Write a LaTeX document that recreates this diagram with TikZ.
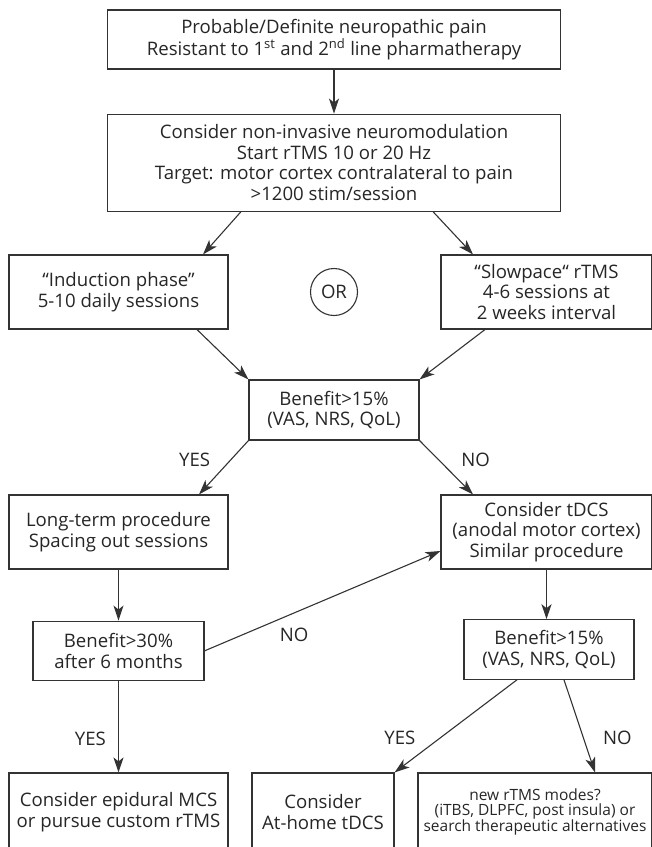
\documentclass[tikz,border=0pt]{standalone}
\usepackage{fontspec}
\setmainfont{Open Sans}
\usetikzlibrary{arrows.meta,positioning}

\newcommand{\boxfont}{\fontsize{18.6}{20.5}\selectfont}
\newcommand{\notefont}{\fontsize{15.5}{15.2}\selectfont}

\begin{document}
\begin{tikzpicture}[%
    x=1pt, y=-1pt,              % layout in pixels, y grows downwards
    >={Stealth[length=15pt,width=10pt,inset=4pt]},
    every join/.style={norm},
    ]
% -------------------------------------------------
% Box styles
\tikzset{
  base/.style={draw=black!80, line width=1.1pt, text=black!85,
    align=center, inner sep=0pt, font=\boxfont},
  proc/.style={base, rectangle, minimum width=219pt, minimum height=74pt},
  wide/.style={base, rectangle, minimum width=453.5pt},
  test/.style={base, rectangle, minimum width=170pt, minimum height=59.5pt},
  ring/.style={base, circle, minimum size=47pt},
  % Connector line styles
  norm/.style={->, draw=black!80, line width=1.1pt},
  it/.style={font=\boxfont, text=black!85, inner sep=0pt}
}
\useasboundingbox (0,0) rectangle (652,847);
% -------------------------------------------------
% Start by placing the nodes
\node [wide, minimum height=59pt] (p0) at (334,39.5)
  {Probable/Definite neuropathic pain\\
   Resistant to 1\textsuperscript{st} and 2\textsuperscript{nd} line pharmatherapy};
\node [wide, minimum height=97pt, below=44pt of p0] (p1)
  {Consider non-invasive neuromodulation\\Start rTMS 10 or 20 Hz\\
   Target: motor cortex contralateral to pain\\>1200 stim/session};
\node [proc] (p2) at (118.5,292) {“Induction phase”\\5-10 daily sessions};
\node [ring] (or) at (334,292) {OR};
\node [proc, minimum width=211pt] (p3) at (546.5,292)
  {“Slowpace“ rTMS\\4-6 sessions at\\2 weeks interval};
\node [test, minimum height=60pt] (t0) at (334,410)
  {Benefit>15\%\\(VAS, NRS, QoL)};
\node [proc] (p4) at (118.5,532) {Long-term procedure\\Spacing out sessions};
\node [proc, minimum width=211pt] (p5) at (546.5,532)
  {Consider tDCS\\(anodal motor cortex)\\Similar procedure};
\node [test, minimum width=171pt, below=51pt of p4] (t1)
  {Benefit>30\%\\after 6 months};
\node [test] (t2) at (549,649.5) {Benefit>15\%\\(VAS, NRS, QoL)};
\node [proc, minimum height=78pt] (p6) at (118.5,812)
  {Consider epidural MCS\\or pursue custom rTMS};
\node [proc, minimum width=142pt, minimum height=78pt] (p7) at (323,812)
  {Consider\\At-home tDCS};
\node [proc, minimum width=234pt, minimum height=78pt, font=\notefont] (p8) at (535,812)
  {new rTMS modes?\\(iTBS, DLPFC, post insula) or\\search therapeutic alternatives};

% -------------------------------------------------
% Connectors
\draw [norm] (p0.south) -- (p1.north);
\draw [norm] ([xshift=-93pt]p1.south) -- ([xshift=84.5pt]p2.north);
\draw [norm] ([xshift=99pt]p1.south) -- ([xshift=-73.5pt]p3.north);
\draw [norm] ([xshift=78.5pt]p2.south) -- (t0.north west);
\draw [norm] ([xshift=-61.5pt]p3.south) -- (t0.north east);

\draw [norm] (t0.south west) -- node [it, pos=0.36, left=20pt] {YES}
  ([xshift=80.5pt]p4.north);
\draw [norm] (t0.south east) -- node [it, pos=0.36, right=22pt] {NO}
  ([xshift=-73.5pt]p5.north);

\draw [norm] (p4.south) -- (t1.north);
\draw [norm] (t1.east) -- node [it, pos=0.38, below=15pt] {NO}
  ([yshift=-19pt]p5.west);
\draw [norm] (p5.south) -- (p5.south |- t2.north);

\draw [norm] (t1.south) -- node [it, pos=0.63, left=12pt] {YES} (p6.north);
\draw [norm] ([xshift=-32pt]t2.south) -- node [it, pos=0.63, left=24pt] {YES}
  (p7.north east);
\draw [norm] ([xshift=15pt]t2.south) -- node [it, pos=0.63, right=19pt] {NO}
  ([xshift=60pt]p8.north);
% -------------------------------------------------
\end{tikzpicture}
\end{document}
